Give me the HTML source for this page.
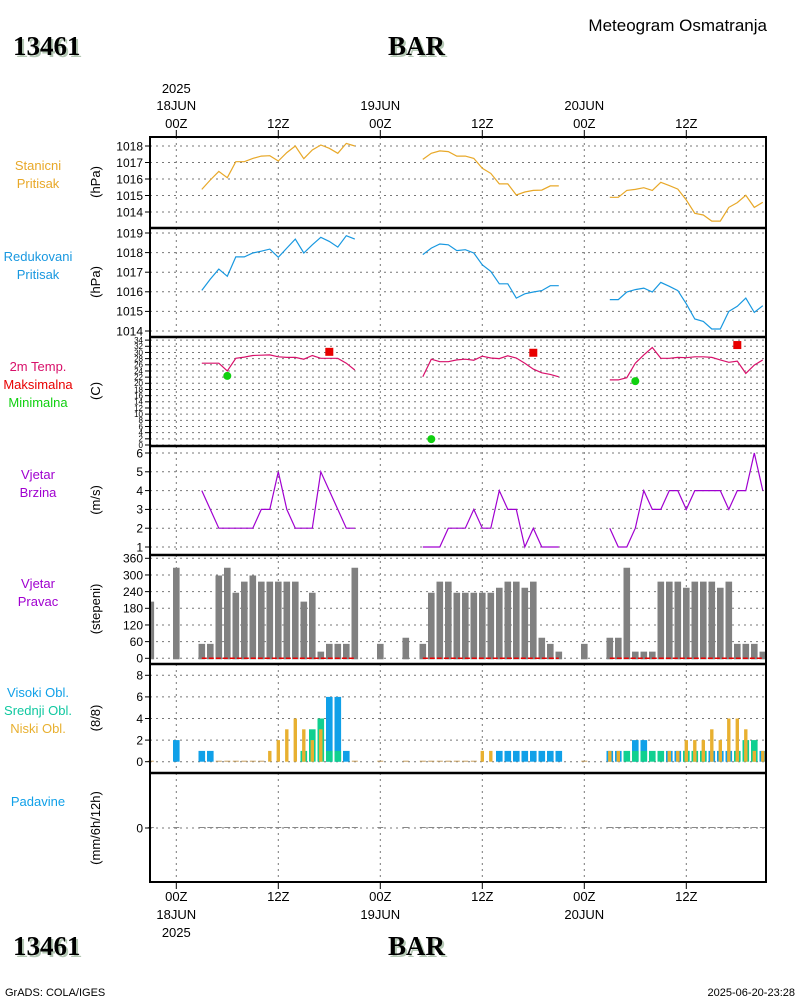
<!DOCTYPE html>
<html><head><meta charset="utf-8"><title>Meteogram</title>
<style>
html,body{margin:0;padding:0;background:#fff;}
svg{display:block;font-family:"Liberation Sans",sans-serif;}
.t{font-size:13px;fill:#000;}
.big{font-family:"Liberation Serif",serif;font-weight:bold;font-size:27px;}
</style></head>
<body>
<svg id="chart" width="800" height="1000" viewBox="0 0 800 1000" xmlns="http://www.w3.org/2000/svg">
<rect width="800" height="1000" fill="#fff"/>
<g>
<text x="15" y="57" class="big" fill="#b4c8b4">13461</text>
<text x="13" y="55" class="big" fill="#000">13461</text>
<text x="390" y="57" class="big" fill="#b4c8b4">BAR</text>
<text x="388" y="55" class="big" fill="#000">BAR</text>
<text x="767" y="31" text-anchor="end" font-size="17">Meteogram Osmatranja</text>
<text x="15" y="957" class="big" fill="#b4c8b4">13461</text>
<text x="13" y="955" class="big" fill="#000">13461</text>
<text x="390" y="957" class="big" fill="#b4c8b4">BAR</text>
<text x="388" y="955" class="big" fill="#000">BAR</text>
<text x="5" y="996" font-size="11">GrADS: COLA/IGES</text>
<text x="795" y="996" font-size="11" text-anchor="end">2025-06-20-23:28</text>
</g>
<g id="grid"></g>
<g id="marks"></g>
<g id="frame"></g>
<g id="labels"></g>
</svg>
<script>
// ---- data ----
const timeTickHours = [0, 12, 24, 36, 48, 60];
const timeTickLabels = ["00Z", "12Z", "00Z", "12Z", "00Z", "12Z"];
const dayLabels = ["18JUN", "", "19JUN", "", "20JUN", ""];
const obsHours = [3,4,5,6,7,8,9,10,11,12,13,14,15,16,17,18,19,20,21,
 29,30,31,32,33,34,35,36,37,38,39,40,41,42,43,44,45,
 51,52,53,54,55,56,57,58,59,60,61,62,63,64,65,66,67,68,69];
const stationPressure = [1015.37,1015.94,1016.46,1016.08,1017.05,1017.05,1017.25,1017.39,1017.41,1017.09,1017.6,1018.0,1017.23,1017.76,1018.06,1017.86,1017.56,1018.16,1018.0,
 1017.19,1017.56,1017.7,1017.66,1017.39,1017.39,1017.25,1016.65,1016.34,1015.7,1015.7,1015.03,1015.21,1015.31,1015.33,1015.58,1015.58,
 1014.89,1014.89,1015.31,1015.37,1015.47,1015.31,1015.8,1015.6,1015.39,1014.73,1013.92,1013.82,1013.45,1013.45,1014.28,1014.57,1015.01,1014.28,1014.59];
const reducedPressure = [1016.07,1016.65,1017.16,1016.79,1017.78,1017.78,1017.98,1018.07,1018.18,1017.76,1018.23,1018.69,1017.98,1018.4,1018.78,1018.57,1018.28,1018.86,1018.69,
 1017.9,1018.23,1018.44,1018.4,1018.1,1018.15,1017.98,1017.38,1017.04,1016.41,1016.41,1015.68,1015.9,1015.99,1016.06,1016.31,1016.31,
 1015.6,1015.6,1015.99,1016.11,1016.19,1015.99,1016.48,1016.28,1016.06,1015.39,1014.61,1014.49,1014.1,1014.1,1015.0,1015.26,1015.68,1014.95,1015.29];
const temperature = [26.5,26.5,26.5,24,28.1,28.5,29,29.1,29.2,28.6,28.4,28.4,27.8,29,28.1,28.1,28.1,26.5,24.3,
 22.1,27.8,27.0,27.0,27.6,27.8,27.5,28.8,28.2,28.0,28.9,28.2,26.5,24.6,23.4,22.9,22.1,
 21.1,21.1,21.8,26.5,29.2,31.6,28.1,28.1,28.4,28.3,28.6,28.6,28.4,27.6,26.8,27.2,23.2,25.9,27.6];
const windSpeed = [4,3,2,2,2,2,2,3,3,5,3,2,2,2,5,4,3,2,2,
 1,1,1,2,2,2,3,2,2,4,3,3,1,2,1,1,1,
 2,1,1,2,4,3,3,4,4,3,4,4,4,4,3,4,4,6,4];
const maxHours = [18, 42, 66];
const maxTemp = [30.2, 29.9, 32.4];
const minHours = [6, 30, 54];
const minTemp = [22.4, 1.9, 20.7];
const barHours = [-3,0,3,4,5,6,7,8,9,10,11,12,13,14,15,16,17,18,19,20,21,24,27,
 29,30,31,32,33,34,35,36,37,38,39,40,41,42,43,44,45,48,
 51,52,53,54,55,56,57,58,59,60,61,62,63,64,65,66,67,68,69];
const windDir = [204,326,52,52,298,326,236,276,298,276,276,276,276,276,204,236,24,52,52,52,326,52,74,
 52,236,276,276,236,236,236,236,236,254,276,276,254,276,74,52,24,52,
 74,74,326,24,24,24,276,276,276,254,276,276,276,254,276,52,52,52,24];
const highCloud = [0,2,1,1,0,0,0,0,0,0,0,0,0,0,0,0,0,6,6,1,0,0,0,
 0,0,0,0,0,0,0,0,0,1,1,1,1,1,1,1,1,0,
 1,1,0,2,2,0,0,1,1,1,0,1,1,1,1,0,0,0,1];
const midCloud = [0,0,0,0,0,0,0,0,0,0,0,0,0,0,1,3,4,1,1,0,0,0,0,
 0,0,0,0,0,0,0,0,0,0,0,0,0,0,0,0,0,0,
 0,0,1,1,1,1,1,0,0,1,1,1,0,0,0,1,2,2,0];
const lowCloud = [0,0,0,0,0,0,0,0,0,0,1,2,3,4,3,2,3,0,0,0,0,0,0,
 0,0,0,0,0,0,0,1,1,0,0,0,0,0,0,0,0,0,
 1,1,0,0,0,0,0,1,1,2,2,2,3,2,4,4,3,1,1];
const precip = barHours.map(() => 0);
const p1Ticks = [1014,1015,1016,1017,1018];
const p2Ticks = [1014,1015,1016,1017,1018,1019];
const p3Ticks = [0,2,4,6,8,10,12,14,16,18,20,22,24,26,28,30,32,34];
const p4Ticks = [1,2,3,4,5,6];
const p5Ticks = [0,60,120,180,240,300,360];
const p6Ticks = [0,2,4,6,8];
const p7Ticks = [0];

// ---- axes ----
const NS = "http://www.w3.org/2000/svg";
const L = 150, R = 766;
const X = h => 176.3 + 8.5 * h;
const Y1 = v => 146 + (1018 - v) * 16.5;
const Y2 = v => 233 + (1019 - v) * 19.6;
const Y3 = t => 445 - t * 3.085;
const Y4 = s => 547 - (s - 1) * 18.8;
const Y5 = d => 658.3 - d * 100 / 360;
const Y6 = o => 761.7 - o * 10.8;
const Y7 = p => 828 - p * 20;
const panels = [[137,228],[228,337],[337,446],[446,555],[555,664],[664,773],[773,882]];

function mk(tag, attrs, parent, text) {
  const e = document.createElementNS(NS, tag);
  for (const k in attrs) e.setAttribute(k, attrs[k]);
  if (text !== undefined) e.textContent = text;
  parent.appendChild(e);
  return e;
}
const grid = document.getElementById('grid');
const marks = document.getElementById('marks');
const frame = document.getElementById('frame');
const labels = document.getElementById('labels');

// vertical grid & time labels
timeTickHours.forEach((h, i) => {
  const x = X(h);
  panels.forEach(p => {
    const g = mk('line', {x1:x, x2:x, y1:p[0], y2:p[1], stroke:'#777', 'stroke-dasharray':'2,4'}, grid);
    
    
  });
  const tt = mk('line', {x1:x, x2:x, y1:130, y2:137, stroke:'#000'}, frame);
  
  
  const tb = mk('line', {x1:x, x2:x, y1:882, y2:889, stroke:'#000'}, frame);
  
  
  const a = mk('text', {x:x, y:128, 'text-anchor':'middle', class:'t'}, labels, timeTickLabels[i]);
  
  
  const b = mk('text', {x:x, y:891+10, 'text-anchor':'middle', class:'t'}, labels, timeTickLabels[i]);
  
  
  if (dayLabels[i]) {
    const d = mk('text', {x:x, y:110, 'text-anchor':'middle', class:'t'}, labels, dayLabels[i]);
    
    
    const d2 = mk('text', {x:x, y:919, 'text-anchor':'middle', class:'t'}, labels, dayLabels[i]);
    
    
  }
});
const y1 = mk('text', {x:X(0), y:93, 'text-anchor':'middle', class:'t'}, labels, '2025');


const y2 = mk('text', {x:X(0), y:937, 'text-anchor':'middle', class:'t'}, labels, '2025');



// horizontal grid + y ticks
function yAxis(ticks, fn, fs, name, labelled) {
  ticks.forEach(v => {
    const y = fn(v);
    const g = mk('line', {x1:L, x2:R, y1:y, y2:y, stroke:'#777', 'stroke-dasharray':'2,4'}, grid);
    
    
    const t = mk('line', {x1:L - 5, x2:L, y1:y, y2:y, stroke:'#000'}, frame);
    
    
    if (labelled !== false) {
      const l = mk('text', {x:L - 7, y:y + fs * 0.36, 'text-anchor':'end', 'font-size':fs}, labels, String(v));
      
      
    }
  });
}
yAxis(p1Ticks, Y1, 12, 'station-pressure');
yAxis(p2Ticks, Y2, 12, 'reduced-pressure');
yAxis(p3Ticks, Y3, 8, 'temperature');
yAxis(p4Ticks, Y4, 12, 'wind-speed');
yAxis(p5Ticks, Y5, 12, 'wind-direction');
yAxis(p6Ticks, Y6, 12, 'cloud-cover');
yAxis(p7Ticks, Y7, 12, 'precipitation');

// line helper with gap breaking
function series(vals, fn, color, name) {
  let segs = [], cur = [];
  obsHours.forEach((h, i) => {
    if (cur.length && h - obsHours[i - 1] > 1) { segs.push(cur); cur = []; }
    cur.push([X(h), fn(vals[i])]);
  });
  segs.push(cur);
  segs.forEach(s => {
    const p = mk('polyline', {points:s.map(q => q[0].toFixed(1) + ',' + q[1].toFixed(1)).join(' '), fill:'none', stroke:color, 'stroke-width':1.2}, marks);
    
    
  });
}
series(stationPressure, Y1, '#e8a828', 'station-pressure-line');
series(reducedPressure, Y2, '#1898e0', 'reduced-pressure-line');
series(temperature, Y3, '#d8106a', 'temperature-line');
series(windSpeed, Y4, '#a000d0', 'wind-speed-line');

maxHours.forEach((h, i) => {
  const r = mk('rect', {x:X(h) - 4, y:Y3(maxTemp[i]) - 4, width:8, height:8, fill:'#e80000'}, marks);
  
  
});
minHours.forEach((h, i) => {
  const c = mk('circle', {cx:X(h), cy:Y3(minTemp[i]), r:4, fill:'#10d010'}, marks);
  
  
});

// wind direction bars
barHours.forEach((h, i) => {
  const x0 = Math.max(L, X(h) - 3.3), x1 = X(h) + 3.3;
  if (x1 <= L) return;
  const b = mk('rect', {x:x0, y:Y5(windDir[i]), width:x1 - x0, height:Y5(0) - Y5(windDir[i]) + 1, fill:'#808080'}, marks);
  
  
});
[[3,21],[29,45],[51,69]].forEach(s => {
  const d = mk('line', {x1:X(s[0]), x2:X(s[1]), y1:Y5(0), y2:Y5(0), stroke:'#e80000', 'stroke-width':1.5, 'stroke-dasharray':'5,2'}, marks);
  
  
});

// cloud bars
barHours.forEach((h, i) => {
  const xc = X(h);
  if (xc < L) return;
  if (highCloud[i] > 0) {
    const b = mk('rect', {x:xc - 3.3, y:Y6(highCloud[i]), width:6.6, height:Y6(0) - Y6(highCloud[i]), fill:'#10a0e8'}, marks);
    
    
  }
  if (midCloud[i] > 0) {
    const b = mk('rect', {x:xc - 3.3, y:Y6(midCloud[i]), width:6.6, height:Y6(0) - Y6(midCloud[i]), fill:'#10d090'}, marks);
    
    
  }
  if (lowCloud[i] > 0) {
    const b = mk('rect', {x:xc - 1.7, y:Y6(lowCloud[i]), width:3.4, height:Y6(0) - Y6(lowCloud[i]), fill:'#e8b030'}, marks);
    
    
  }
  if (highCloud[i] + midCloud[i] + lowCloud[i] === 0) {
    const b = mk('rect', {x:xc - 3, y:Y6(0) - 1, width:6, height:1, fill:'#c8a060'}, marks);
    
    
  }
  const p = mk('rect', {x:xc - 3, y:Y7(precip[i]) - 1, width:6, height:1, fill:'#888'}, marks);
  
  
});

// frame
const fr = mk('rect', {x:L, y:137, width:R - L, height:882 - 137, fill:'none', stroke:'#000', 'stroke-width':2}, frame);


panels.slice(1).forEach(p => {
  const s = mk('line', {x1:L, x2:R, y1:p[0], y2:p[0], stroke:'#000', 'stroke-width':2.5}, frame);
  
  
});

// left labels
const leftLabels = [
  [['Stanicni','#e8a828'],['Pritisak','#e8a828']], 170, '(hPa)', 182,
  [['Redukovani','#1898e0'],['Pritisak','#1898e0']], 261, '(hPa)', 282,
  [['2m Temp.','#d8106a'],['Maksimalna','#e80000'],['Minimalna','#10d010']], 371, '(C)', 391,
  [['Vjetar','#a000d0'],['Brzina','#a000d0']], 479, '(m/s)', 500,
  [['Vjetar','#a000d0'],['Pravac','#a000d0']], 588, '(stepeni)', 609,
  [['Visoki Obl.','#10a0e8'],['Srednji Obl.','#10c8a0'],['Niski Obl.','#e8b030']], 697, '(8/8)', 718,
  [['Padavine','#10a0e8']], 806, '(mm/6h/12h)', 828
];
for (let k = 0; k < leftLabels.length; k += 4) {
  const lines = leftLabels[k], y0 = leftLabels[k + 1];
  lines.forEach((ln, j) => {
    const t = mk('text', {x:38, y:y0 + j * 18, 'text-anchor':'middle', class:'t', fill:ln[1]}, labels, ln[0]);
    t.style.fill = ln[1];
    
    
  });
  const uy = leftLabels[k + 3];
  const u = mk('text', {x:0, y:0, 'text-anchor':'middle', class:'t', transform:'translate(100,' + uy + ') rotate(-90)'}, labels, leftLabels[k + 2]);
  
  
}
</script>
</body></html>
